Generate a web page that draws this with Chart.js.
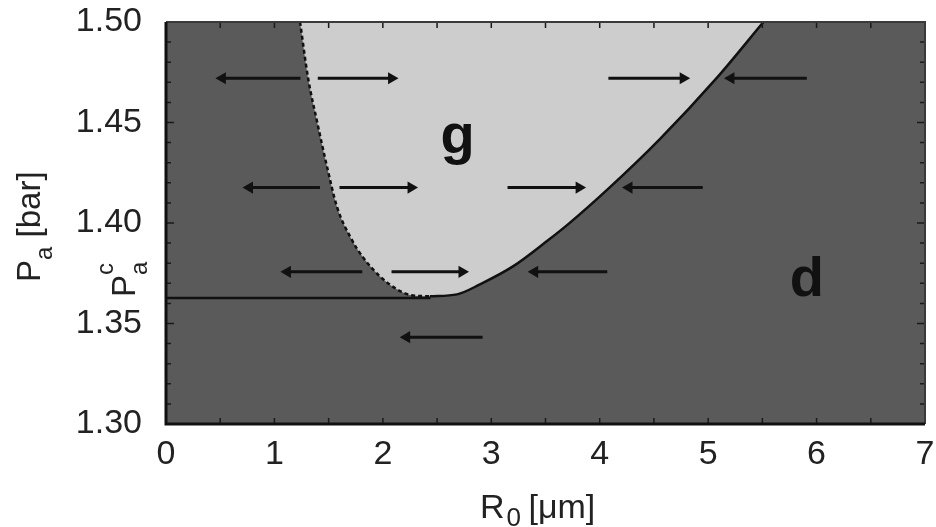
<!DOCTYPE html>
<html lang="en">
<head>
<meta charset="UTF-8">
<title>Pa vs R0</title>
<script src="https://cdn.jsdelivr.net/npm/chart.js"></script>
<style>
  html, body { margin: 0; padding: 0; background: #fff; }
  #wrap { width: 936px; height: 527px; position: relative; }
</style>
</head>
<body>
<div id="wrap"><canvas id="phaseChart"></canvas></div>
<script>
// axis ticks
const xTickValues = [0, 1, 2, 3, 4, 5, 6, 7];
const yTickValues = [1.30, 1.35, 1.40, 1.45, 1.50];
const yTickLabels = ['1.30', '1.35', '1.40', '1.45', '1.50'];

// boundary of the "g" region, R0 [um] / Pa [bar]
// left branch (dashed) and right branch (solid) share the minimum point
const leftR  = [1.236, 1.31, 1.393, 1.485, 1.577, 1.697, 1.817, 1.974, 2.13, 2.25, 2.435];
const leftP  = [1.500, 1.4722, 1.4505, 1.428, 1.408, 1.3933, 1.3829, 1.3734, 1.367, 1.3642, 1.3635];
const rightR = [2.435, 2.684, 2.896, 3.2, 3.514, 3.707, 4.09, 4.55, 5.08, 5.51];
const rightP = [1.3635, 1.3645, 1.3695, 1.3784, 1.3910, 1.3993, 1.4176, 1.4415, 1.4722, 1.500];

// threshold Pa^c
const pacValue = 1.3627;
const pacLineR = [0, 2.44];

// arrows: height, tail, head
const arrowP    = [1.472, 1.472, 1.472, 1.472, 1.4176, 1.4176, 1.4176, 1.4176, 1.3757, 1.3757, 1.3757, 1.3432];
const arrowFrom = [1.24, 1.40, 4.08, 5.91, 1.42, 1.60, 3.15, 4.95, 1.81, 2.08, 4.07, 2.92];
const arrowTo   = [0.52, 2.08, 4.77, 5.21, 0.77, 2.26, 3.81, 4.27, 1.12, 2.73, 3.40, 2.22];

// region labels
const regionText = ['g', 'd'];
const regionR = [2.69, 5.91];
const regionP = [1.435, 1.3635];

const FONT = '"Liberation Sans", Arial, sans-serif';
const INK = '#111';

function richText(ctx, parts) {
    let x = 0;
    for (const p of parts) {
        ctx.font = (p.bold ? 'bold ' : '') + p.size + 'px ' + FONT;
        ctx.fillText(p.text, x + (p.dx || 0), p.dy || 0);
        if (!p.stay) x += ctx.measureText(p.text).width;
    }
    return x;
}

const framePlugin = {
    id: 'frame',
    beforeDraw(chart) {
        const { ctx, chartArea: a } = chart;
        ctx.save();
        ctx.fillStyle = '#fff';
        ctx.fillRect(0, 0, chart.width, chart.height);
        ctx.fillStyle = '#5a5a5a';
        ctx.fillRect(a.left, a.top, a.right - a.left, a.bottom - a.top);
        ctx.restore();
    },
    afterDraw(chart) {
        const { ctx, chartArea: a, scales } = chart;
        const sx = scales.x, sy = scales.y;
        ctx.save();

        // inward ticks
        ctx.strokeStyle = '#1a1a1a';
        ctx.lineWidth = 1.5;
        ctx.beginPath();
        for (let k = 0; k <= 14; k++) {
            const px = sx.getPixelForValue(k * 0.5);
            ctx.moveTo(px, a.bottom); ctx.lineTo(px, a.bottom - 6);
            ctx.moveTo(px, a.top); ctx.lineTo(px, a.top + 6);
        }
        for (let k = 0; k <= 20; k++) {
            const py = sy.getPixelForValue(1.30 + k * 0.01);
            const len = k % 5 === 0 ? 8 : 5;
            ctx.moveTo(a.left, py); ctx.lineTo(a.left + len, py);
            ctx.moveTo(a.right, py); ctx.lineTo(a.right - len, py);
        }
        ctx.stroke();

        // frame
        ctx.strokeStyle = '#3a3a3a';
        ctx.lineWidth = 2;
        ctx.beginPath();
        ctx.moveTo(a.left, a.top); ctx.lineTo(a.right, a.top); ctx.lineTo(a.right, a.bottom);
        ctx.stroke();
        ctx.strokeStyle = INK;
        ctx.lineWidth = 3;
        ctx.beginPath();
        ctx.moveTo(a.left, a.top); ctx.lineTo(a.left, a.bottom); ctx.lineTo(a.right, a.bottom);
        ctx.stroke();

        // region letters
        ctx.fillStyle = INK;
        ctx.textAlign = 'center';
        ctx.textBaseline = 'alphabetic';
        ctx.font = 'bold 56px ' + FONT;
        regionText.forEach((t, i) => {
            ctx.fillText(t, sx.getPixelForValue(regionR[i]), sy.getPixelForValue(regionP[i]));
        });

        ctx.textAlign = 'left';
        ctx.fillStyle = '#222';

        // x axis title
        ctx.save();
        ctx.translate(480, 518);
        richText(ctx, [
            { text: 'R', size: 34 },
            { text: '0', size: 26, dy: 8, dx: 2 },
            { text: ' [\u03bcm]', size: 34 }
        ]);
        ctx.restore();

        // y axis title (rotated)
        ctx.save();
        ctx.translate(40, 282);
        ctx.rotate(-Math.PI / 2);
        richText(ctx, [
            { text: 'P', size: 33 },
            { text: 'a', size: 24, dy: 12 },
            { text: ' [bar]', size: 33 }
        ]);
        ctx.restore();

        // Pa^c marker next to the threshold line
        ctx.save();
        ctx.translate(135, sy.getPixelForValue(pacValue) - 1);
        ctx.rotate(-Math.PI / 2);
        richText(ctx, [
            { text: 'P', size: 33 },
            { text: 'c', size: 24, dy: -22, stay: true },
            { text: 'a', size: 24, dy: 12 }
        ]);
        ctx.restore();

        ctx.restore();
    }
};

const toPts = (rs, ps) => rs.map((r, i) => ({ x: r, y: ps[i] }));
const datasets = [];

// light "g" region: filled up to the top of the plot, drawn first
datasets.push({
    data: toPts(leftR.concat(rightR.slice(1)), leftP.concat(rightP.slice(1))),
    borderWidth: 0,
    borderColor: 'rgba(0,0,0,0)',
    backgroundColor: '#cdcdcd',
    fill: 'end',
    pointRadius: 0,
    cubicInterpolationMode: 'monotone',
    order: 10
});

datasets.push({
    data: toPts(leftR, leftP),
    borderColor: INK,
    borderWidth: 2.5,
    borderDash: [4, 3],
    pointRadius: 0,
    fill: false,
    cubicInterpolationMode: 'monotone',
    order: 5
});

datasets.push({
    data: toPts(rightR, rightP),
    borderColor: INK,
    borderWidth: 2.5,
    pointRadius: 0,
    fill: false,
    cubicInterpolationMode: 'monotone',
    order: 5
});

datasets.push({
    data: pacLineR.map(r => ({ x: r, y: pacValue })),
    borderColor: INK,
    borderWidth: 2.5,
    pointRadius: 0,
    fill: false,
    order: 5
});

arrowP.forEach((p, i) => {
    const right = arrowTo[i] > arrowFrom[i];
    datasets.push({
        data: [{ x: arrowFrom[i], y: p }, { x: arrowTo[i], y: p }],
        borderColor: INK,
        borderWidth: 3,
        fill: false,
        pointStyle: 'triangle',
        pointRadius: [0, 7],
        pointHoverRadius: 0,
        rotation: [0, right ? 90 : -90],
        pointBackgroundColor: INK,
        pointBorderWidth: 0,
        order: 1
    });
});

new Chart(document.getElementById('phaseChart'), {
    type: 'line',
    data: { datasets: datasets },
    options: {
        responsive: true,
        maintainAspectRatio: false,
        animation: false,
        events: [],
        layout: { padding: { top: 22, right: 11, left: 0, bottom: 0 } },
        plugins: { legend: { display: false }, tooltip: { enabled: false } },
        scales: {
            x: {
                type: 'linear',
                min: 0,
                max: 7,
                grid: { display: false, drawTicks: false },
                border: { display: false },
                afterBuildTicks: s => { s.ticks = xTickValues.map(v => ({ value: v })); },
                afterFit: s => { s.height = 103; s.paddingLeft = 0; s.paddingRight = 0; },
                ticks: {
                    padding: 10,
                    color: '#222',
                    font: { family: FONT, size: 34 },
                    callback: v => String(v)
                }
            },
            y: {
                type: 'linear',
                min: 1.30,
                max: 1.50,
                grid: { display: false, drawTicks: false },
                border: { display: false },
                afterBuildTicks: s => { s.ticks = yTickValues.map(v => ({ value: v })); },
                afterFit: s => { s.width = 166; s.paddingTop = 0; s.paddingBottom = 0; },
                ticks: {
                    padding: 24,
                    color: '#222',
                    font: { family: FONT, size: 34 },
                    callback: (v, i) => yTickLabels[i]
                }
            }
        }
    },
    plugins: [framePlugin]
});
</script>
</body>
</html>
